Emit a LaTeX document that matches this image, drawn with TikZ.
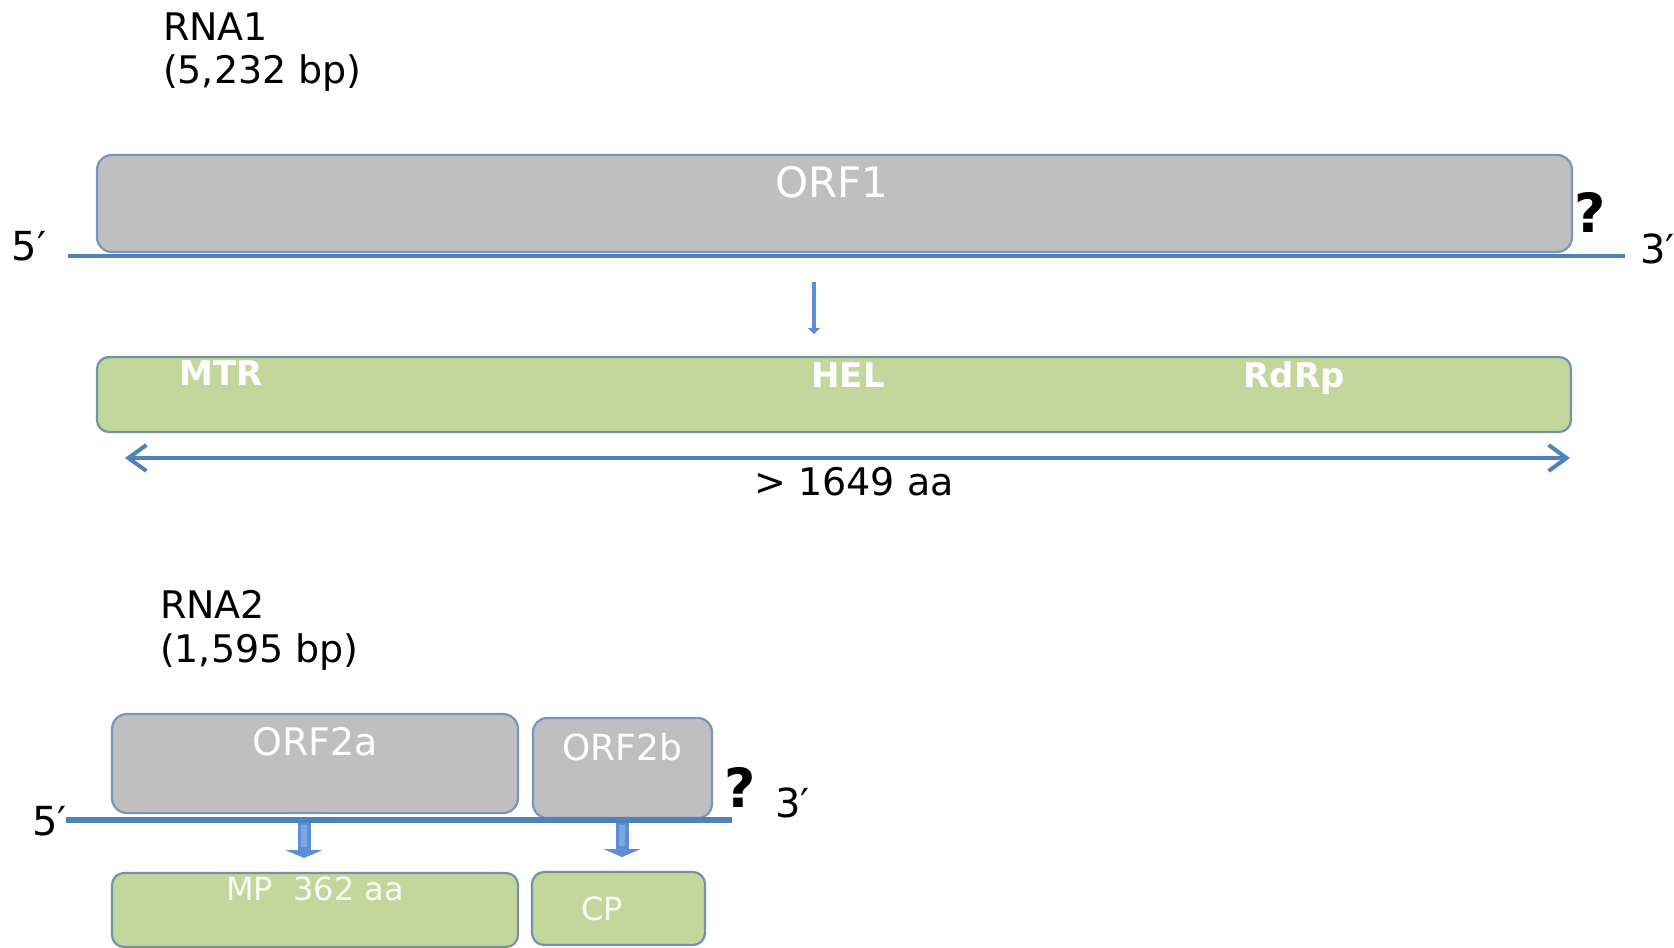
\documentclass[tikz,border=0pt]{standalone}
\usepackage{fontspec}
\setmainfont{DejaVu Sans}
\usetikzlibrary{arrows.meta}
\definecolor{strand}{HTML}{4F81BD}
\definecolor{orfedge}{HTML}{7895C0}
\definecolor{orffill}{HTML}{BFBFBF}
\definecolor{protfill}{HTML}{C3D69B}
\definecolor{protedge}{HTML}{7593A0}
\definecolor{blockarrow}{HTML}{5B8ED6}
\newcommand{\fs}[1]{\fontsize{#1}{#1}\selectfont}
\tikzset{
  orfbox/.style={draw=orfedge, line width=2.2pt, fill=orffill, rounded corners=15pt},
  protbox/.style={draw=protedge, line width=2.2pt, fill=protfill, rounded corners=12pt},
  plain/.style={inner sep=0pt, outer sep=0pt},
  lbl/.style={plain, text=black, font=\fs{38}},
  endlbl/.style={plain, text=black, font=\fs{40}},
  orflbl/.style={plain, text=white, font=\fs{38}},
  domlbl/.style={plain, text=white, font=\bfseries\fs{34}},
  protlbl/.style={plain, text=white!92!protfill, font=\fs{32}},
  qmark/.style={plain, text=black, font=\bfseries\fs{54}},
  strandline/.style={draw=strand, line width=4.5pt},
  thinarrow/.style={draw=blockarrow, line width=4pt, -{Triangle[width=12pt,length=6pt]}},
  fatarrow/.style={draw=blockarrow, line width=13pt, -{Triangle[width=37pt,length=8pt]}},
  shaftlight/.style={draw=blockarrow!78!white, line width=6pt},
  spanarrow/.style={draw=strand, line width=4pt, {Straight Barb[length=18pt,width=26pt,line width=4pt]}-{Straight Barb[length=18pt,width=26pt,line width=4pt]}},
}
\begin{document}
\begin{tikzpicture}[x=1pt, y=-1pt]
\useasboundingbox (0,0) rectangle (1674,948);

% ---- RNA1 ----
\node[lbl, anchor=base west] (rna1) at (163,40) {RNA1};
\node[lbl, anchor=base west] (rna1len) at (163,83) {(5,232 bp)};

\path[orfbox] (97,155) rectangle (1572,252);
\node[plain, minimum width=1475pt, minimum height=97pt, anchor=north west] (orf1) at (97,155) {};
\node[orflbl, font=\fs{42}, anchor=base] (orf1lbl) at (832,197) {ORF1};

\coordinate (s1a) at (68,256);
\coordinate (s1b) at (1625,256);
\draw[strandline] (s1a) -- (s1b);
\node[endlbl, anchor=base west] (p5a) at (12,260) {5′};
\node[endlbl, anchor=base west] (p3a) at (1640,263) {3′};
\node[qmark, anchor=base] (q1) at (1590,232) {?};

\path[protbox] (97,357) rectangle (1571,432);
\node[plain, minimum width=1474pt, minimum height=75pt, anchor=north west] (poly) at (97,357) {};
\node[domlbl, anchor=base] (mtr) at (221,385) {MTR};
\node[domlbl, anchor=base] (hel) at (848,387) {HEL};
\node[domlbl, anchor=base] (rdrp) at (1294,387) {RdRp};

\coordinate (t1) at (814,282);
\coordinate (t2) at (814,334);
\draw[thinarrow] (t1) -- (t2);

\coordinate (spanL) at (125,458);
\coordinate (spanR) at (1570,458);
\draw[spanarrow] (spanL) -- (spanR);
\node[lbl, anchor=base] (span) at (854,495) {> 1649 aa};

% ---- RNA2 ----
\node[lbl, anchor=base west] (rna2) at (160,618) {RNA2};
\node[lbl, anchor=base west] (rna2len) at (160,662) {(1,595 bp)};

\path[orfbox] (112,714) rectangle (518,813);
\node[plain, minimum width=406pt, minimum height=99pt, anchor=north west] (orf2a) at (112,714) {};
\node[orflbl, anchor=base] (orf2albl) at (315,755) {ORF2a};

\path[orfbox, rounded corners=14pt] (533,718) rectangle (712,818);
\node[plain, minimum width=179pt, minimum height=100pt, anchor=north west] (orf2b) at (533,718) {};
\node[orflbl, font=\fs{36}, anchor=base] (orf2blbl) at (622,760) {ORF2b};

\coordinate (s2a) at (66,820);
\coordinate (s2b) at (732,820);
\draw[strandline, line width=5.5pt] (s2a) -- (s2b);
\node[endlbl, anchor=base west] (p5b) at (32,835) {5′};
\node[endlbl, anchor=base west] (p3b) at (775,817) {3′};
\node[qmark, anchor=base] (q2) at (740,807) {?};

% block arrows from the ORFs down to their products
\coordinate (m1) at (304,823);
\coordinate (m2) at (304,858);
\draw[fatarrow] (m1) -- (m2);
\draw[shaftlight] ([yshift=-2pt]m1) -- ([yshift=11pt]m2);
\coordinate (c1) at (622,823);
\coordinate (c2) at (622,857);
\draw[fatarrow] (c1) -- (c2);
\draw[shaftlight] ([yshift=-2pt]c1) -- ([yshift=11pt]c2);

\path[protbox] (112,873) rectangle (518,947);
\node[plain, minimum width=406pt, minimum height=74pt, anchor=north west] (mp) at (112,873) {};
\node[protlbl, anchor=base] (mplbl) at (315,900) {MP~~362 aa};

\path[protbox] (532,872) rectangle (705,945);
\node[plain, minimum width=173pt, minimum height=73pt, anchor=north west] (cp) at (532,872) {};
\node[protlbl, anchor=base] (cplbl) at (602,920) {CP};
\end{tikzpicture}
\end{document}
